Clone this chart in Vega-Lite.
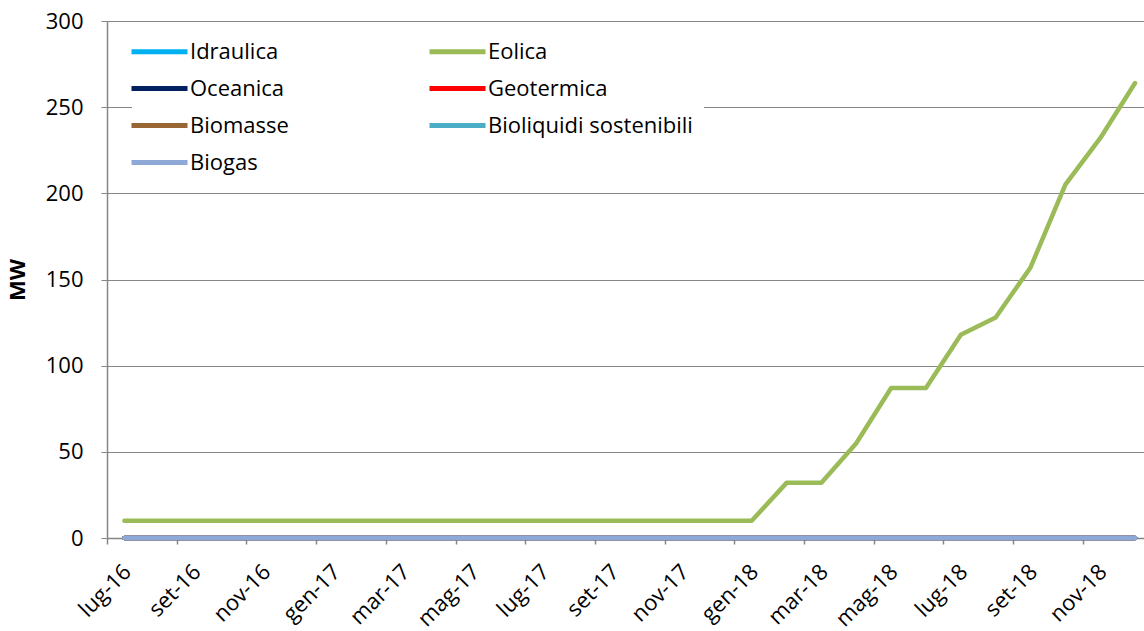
{
  "$schema": "https://vega.github.io/schema/vega-lite/v6.json",
  "width": 1037,
  "height": 517,
  "autosize": {"type": "none"},
  "padding": {"left": 107, "top": 21, "right": 0, "bottom": 93},
  "background": "white",
  "config": {
    "view": {"stroke": null},
    "font": "Open Sans",
    "axis": {"labelFont": "Open Sans", "titleFont": "Open Sans", "labelColor": "#000", "titleColor": "#000"}
  },
  "data": {"values": [
    {"m":"lug-16","Idraulica":0,"Eolica":10,"Oceanica":0,"Geotermica":0,"Biomasse":0,"Bioliquidi sostenibili":0,"Biogas":0},
    {"m":"ago-16","Idraulica":0,"Eolica":10,"Oceanica":0,"Geotermica":0,"Biomasse":0,"Bioliquidi sostenibili":0,"Biogas":0},
    {"m":"set-16","Idraulica":0,"Eolica":10,"Oceanica":0,"Geotermica":0,"Biomasse":0,"Bioliquidi sostenibili":0,"Biogas":0},
    {"m":"ott-16","Idraulica":0,"Eolica":10,"Oceanica":0,"Geotermica":0,"Biomasse":0,"Bioliquidi sostenibili":0,"Biogas":0},
    {"m":"nov-16","Idraulica":0,"Eolica":10,"Oceanica":0,"Geotermica":0,"Biomasse":0,"Bioliquidi sostenibili":0,"Biogas":0},
    {"m":"dic-16","Idraulica":0,"Eolica":10,"Oceanica":0,"Geotermica":0,"Biomasse":0,"Bioliquidi sostenibili":0,"Biogas":0},
    {"m":"gen-17","Idraulica":0,"Eolica":10,"Oceanica":0,"Geotermica":0,"Biomasse":0,"Bioliquidi sostenibili":0,"Biogas":0},
    {"m":"feb-17","Idraulica":0,"Eolica":10,"Oceanica":0,"Geotermica":0,"Biomasse":0,"Bioliquidi sostenibili":0,"Biogas":0},
    {"m":"mar-17","Idraulica":0,"Eolica":10,"Oceanica":0,"Geotermica":0,"Biomasse":0,"Bioliquidi sostenibili":0,"Biogas":0},
    {"m":"apr-17","Idraulica":0,"Eolica":10,"Oceanica":0,"Geotermica":0,"Biomasse":0,"Bioliquidi sostenibili":0,"Biogas":0},
    {"m":"mag-17","Idraulica":0,"Eolica":10,"Oceanica":0,"Geotermica":0,"Biomasse":0,"Bioliquidi sostenibili":0,"Biogas":0},
    {"m":"giu-17","Idraulica":0,"Eolica":10,"Oceanica":0,"Geotermica":0,"Biomasse":0,"Bioliquidi sostenibili":0,"Biogas":0},
    {"m":"lug-17","Idraulica":0,"Eolica":10,"Oceanica":0,"Geotermica":0,"Biomasse":0,"Bioliquidi sostenibili":0,"Biogas":0},
    {"m":"ago-17","Idraulica":0,"Eolica":10,"Oceanica":0,"Geotermica":0,"Biomasse":0,"Bioliquidi sostenibili":0,"Biogas":0},
    {"m":"set-17","Idraulica":0,"Eolica":10,"Oceanica":0,"Geotermica":0,"Biomasse":0,"Bioliquidi sostenibili":0,"Biogas":0},
    {"m":"ott-17","Idraulica":0,"Eolica":10,"Oceanica":0,"Geotermica":0,"Biomasse":0,"Bioliquidi sostenibili":0,"Biogas":0},
    {"m":"nov-17","Idraulica":0,"Eolica":10,"Oceanica":0,"Geotermica":0,"Biomasse":0,"Bioliquidi sostenibili":0,"Biogas":0},
    {"m":"dic-17","Idraulica":0,"Eolica":10,"Oceanica":0,"Geotermica":0,"Biomasse":0,"Bioliquidi sostenibili":0,"Biogas":0},
    {"m":"gen-18","Idraulica":0,"Eolica":10,"Oceanica":0,"Geotermica":0,"Biomasse":0,"Bioliquidi sostenibili":0,"Biogas":0},
    {"m":"feb-18","Idraulica":0,"Eolica":32,"Oceanica":0,"Geotermica":0,"Biomasse":0,"Bioliquidi sostenibili":0,"Biogas":0},
    {"m":"mar-18","Idraulica":0,"Eolica":32,"Oceanica":0,"Geotermica":0,"Biomasse":0,"Bioliquidi sostenibili":0,"Biogas":0},
    {"m":"apr-18","Idraulica":0,"Eolica":55,"Oceanica":0,"Geotermica":0,"Biomasse":0,"Bioliquidi sostenibili":0,"Biogas":0},
    {"m":"mag-18","Idraulica":0,"Eolica":87,"Oceanica":0,"Geotermica":0,"Biomasse":0,"Bioliquidi sostenibili":0,"Biogas":0},
    {"m":"giu-18","Idraulica":0,"Eolica":87,"Oceanica":0,"Geotermica":0,"Biomasse":0,"Bioliquidi sostenibili":0,"Biogas":0},
    {"m":"lug-18","Idraulica":0,"Eolica":118,"Oceanica":0,"Geotermica":0,"Biomasse":0,"Bioliquidi sostenibili":0,"Biogas":0},
    {"m":"ago-18","Idraulica":0,"Eolica":128,"Oceanica":0,"Geotermica":0,"Biomasse":0,"Bioliquidi sostenibili":0,"Biogas":0},
    {"m":"set-18","Idraulica":0,"Eolica":157,"Oceanica":0,"Geotermica":0,"Biomasse":0,"Bioliquidi sostenibili":0,"Biogas":0},
    {"m":"ott-18","Idraulica":0,"Eolica":205,"Oceanica":0,"Geotermica":0,"Biomasse":0,"Bioliquidi sostenibili":0,"Biogas":0},
    {"m":"nov-18","Idraulica":0,"Eolica":232,"Oceanica":0,"Geotermica":0,"Biomasse":0,"Bioliquidi sostenibili":0,"Biogas":0},
    {"m":"dic-18","Idraulica":0,"Eolica":264,"Oceanica":0,"Geotermica":0,"Biomasse":0,"Bioliquidi sostenibili":0,"Biogas":0}
  ]},
  "transform": [
    {"fold": ["Idraulica","Eolica","Oceanica","Geotermica","Biomasse","Bioliquidi sostenibili","Biogas"], "as": ["serie","valore"]}
  ],
  "mark": {"type": "line", "strokeWidth": 4.5, "strokeCap": "round", "strokeJoin": "round"},
  "encoding": {
    "x": {
      "field": "m", "type": "ordinal", "sort": null,
      "scale": {"type": "point", "padding": 0.378, "align": 0.661},
      "axis": {
        "title": null,
        "values": ["lug-16","set-16","nov-16","gen-17","mar-17","mag-17","lug-17","set-17","nov-17","gen-18","mar-18","mag-18","lug-18","set-18","nov-18"],
        "tickOffset": -17.4, "labelOffset": 20,
        "labelAngle": -45, "labelAlign": "right", "labelBaseline": "middle",
        "labelFontSize": 22, "labelPadding": 24,
        "domainColor": "#868686", "tickColor": "#868686", "tickSize": 6, "domainWidth": 1.5, "tickWidth": 1.5,
        "grid": false
      }
    },
    "y": {
      "field": "valore", "type": "quantitative",
      "scale": {"domain": [0, 300], "nice": false},
      "axis": {
        "title": "MW", "titleFontSize": 22, "titleFontWeight": "bold", "titlePadding": 16,
        "values": [0,50,100,150,200,250,300],
        "labelFontSize": 22, "labelPadding": 18,
        "domainColor": "#868686", "tickColor": "#868686", "tickSize": 6, "domainWidth": 1.5,
        "grid": true, "gridColor": "#868686", "gridWidth": 1.2
      }
    },
    "color": {
      "field": "serie", "type": "nominal", "sort": null,
      "scale": {
        "domain": ["Idraulica","Eolica","Oceanica","Geotermica","Biomasse","Bioliquidi sostenibili","Biogas"],
        "range": ["#00B0F0","#9BBB59","#002060","#FF0000","#996633","#4BACC6","#8EA9D5"]
      },
      "legend": {
        "title": null, "orient": "none", "legendX": 25, "legendY": 3,
        "direction": "horizontal",
        "columns": 2, "columnPadding": 130, "rowPadding": 9,
        "symbolType": "M-2,0H2", "symbolStrokeWidth": 5, "symbolSize": 784,
        "labelFontSize": 22, "labelOffset": 14, "labelFont": "Open Sans", "labelLimit": 400,
        "fillColor": "white", "padding": 11
      }
    }
  }
}
